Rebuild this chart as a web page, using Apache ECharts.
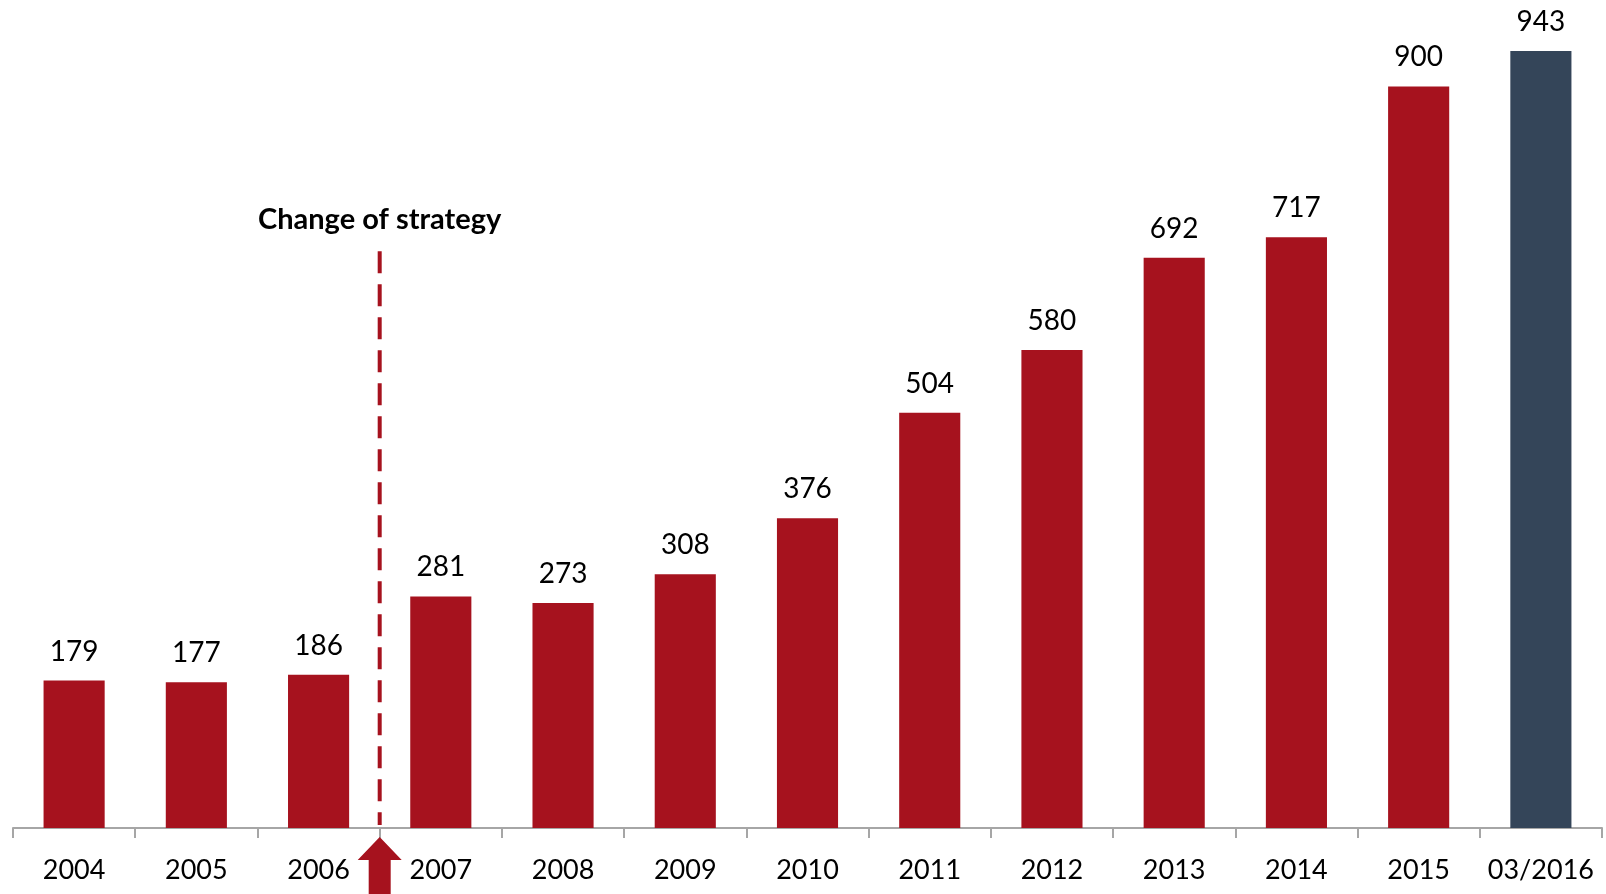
<!DOCTYPE html>
<html>
<head>
<meta charset="utf-8">
<script src="https://cdn.jsdelivr.net/npm/echarts@6/dist/echarts.min.js"></script>
<style>
html,body{margin:0;padding:0;background:#fff;}
#main{width:1606px;height:894px;}
</style>
</head>
<body>
<div id="main"></div>
<script>
const categories = ['2004','2005','2006','2007','2008','2009','2010','2011','2012','2013','2014','2015','03/2016'];
const values = [179,177,186,281,273,308,376,504,580,692,717,900,943];
const highlightIndex = 12;
const annotationText = 'Change of strategy';
const strategyBetween = ['2006','2007'];
const dashTopValue = 700;

const RED = '#A6121E';
const NAVY = '#344559';
const FONT = 'Lato';

const chart = echarts.init(document.getElementById('main'), null, {renderer:'canvas'});

chart.setOption({
  animation:false,
  grid:{left:13, right:4, top:4, bottom:66, containLabel:false},
  xAxis:{
    type:'category',
    data:categories,
    boundaryGap:true,
    axisLine:{show:true, lineStyle:{color:'#a6a6a6', width:2}},
    axisTick:{show:true, alignWithLabel:false, length:10, lineStyle:{color:'#a6a6a6', width:2}},
    axisLabel:{color:'#000', fontFamily:FONT, fontSize:27, margin:29, interval:0}
  },
  yAxis:{type:'value', min:0, max:1000, show:false, splitLine:{show:false}},
  series:[{
    type:'bar',
    barWidth:'50%',
    data: values.map((v,i)=>({value:v, itemStyle:{color: i===highlightIndex?NAVY:RED}})),
    label:{show:true, position:'top', distance:15, color:'#000', fontFamily:FONT, fontSize:28}
  }]
});

function drawAnnotations(){
  const x1 = chart.convertToPixel({xAxisIndex:0}, strategyBetween[0]);
  const x2 = chart.convertToPixel({xAxisIndex:0}, strategyBetween[1]);
  const x = (x1+x2)/2;
  const yTop = chart.convertToPixel({yAxisIndex:0}, dashTopValue);
  const yAxisPx = chart.convertToPixel({yAxisIndex:0}, 0);
  chart.setOption({
    graphic:[
      {type:'line', shape:{x1:x, y1:yTop, x2:x, y2:yAxisPx-3},
       style:{stroke:RED, lineWidth:4, lineDash:[22,11]}, z:10},
      {type:'text', x:x, y:yTop-32, style:{text:annotationText, fill:'#000', font:'bold 29px '+FONT, textAlign:'center', textVerticalAlign:'middle'}},
      {type:'polygon', shape:{points:[
        [x, yAxisPx+9],[x+22, yAxisPx+32],[x+11, yAxisPx+32],[x+11, 900],[x-11, 900],[x-11, yAxisPx+32],[x-22, yAxisPx+32]
      ]}, style:{fill:RED}, z:10}
    ]
  });
}
drawAnnotations();
</script>
</body>
</html>
